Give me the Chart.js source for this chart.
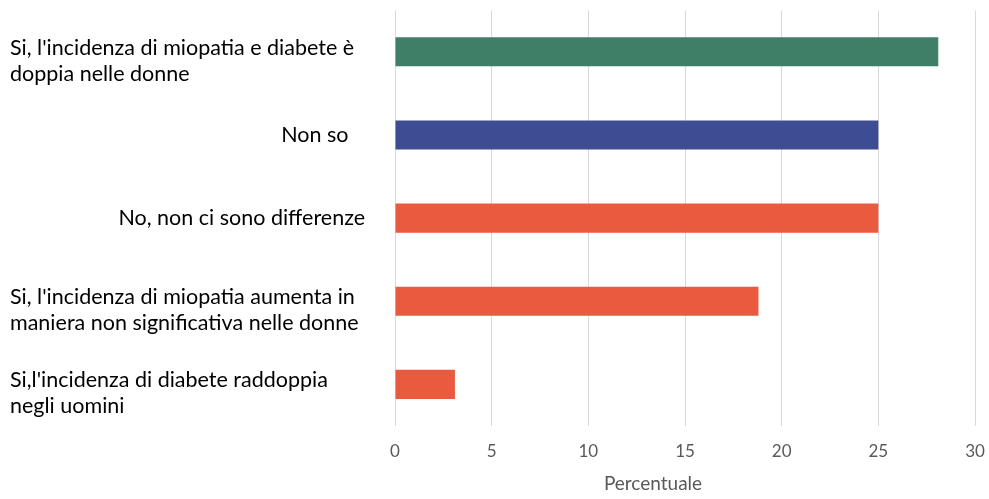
<!DOCTYPE html>
<html>
<head>
<meta charset="utf-8">
<script src="https://cdn.jsdelivr.net/npm/chart.js@4"></script>
<style>
  html, body { margin: 0; padding: 0; background: #fff; }
  .chart-container { position: relative; width: 989px; height: 499px; }
</style>
</head>
<body>
<div class="chart-container"><canvas id="answersChart"></canvas></div>
<script>
const categories = [
  ["Si, l'incidenza di miopatia e diabete è", "doppia nelle donne"],
  "Non so   ",
  "No, non ci sono differenze",
  ["Si, l'incidenza di miopatia aumenta in", "maniera non significativa nelle donne"],
  ["Si,l'incidenza di diabete raddoppia", "negli uomini"]
];
const percentages = [28.1, 25, 25, 18.8, 3.1];
const barColors = ['#3F7F67', '#3E4C93', '#EA5A3F', '#EA5A3F', '#EA5A3F'];
const xTicks = [0, 5, 10, 15, 20, 25, 30];
const axisTitle = 'Percentuale';

const fontFamily = 'Lato, "Open Sans", sans-serif';
const labelFont = '21.5px ' + fontFamily;

// draws the category labels the way the original does:
// wrapped labels left aligned, single ones right aligned next to the bars
// plus the axis title, which sits a bit left of the plot centre
const categoryLabels = {
  id: 'categoryLabels',
  afterDraw(chart) {
    const ctx = chart.ctx;
    const yScale = chart.scales.y;
    const area = chart.chartArea;
    ctx.save();
    ctx.font = labelFont;
    ctx.fillStyle = '#000';
    ctx.textBaseline = 'middle';
    categories.forEach((label, i) => {
      const y = yScale.getPixelForTick(i);
      if (Array.isArray(label)) {
        ctx.textAlign = 'left';
        label.forEach((line, j) => {
          ctx.fillText(line, 10, y - 4 + j * 26);
        });
      } else {
        ctx.textAlign = 'right';
        ctx.fillText(label, area.left - 30, y);
      }
    });

    ctx.font = '19px ' + fontFamily;
    ctx.fillStyle = '#595959';
    ctx.textAlign = 'center';
    ctx.fillText(axisTitle, (area.left + area.right) / 2 - 32, chart.height - 15);
    ctx.restore();
  }
};

const ctx = document.getElementById('answersChart').getContext('2d');
new Chart(ctx, {
  type: 'bar',
  data: {
    labels: categories,
    datasets: [{
      label: axisTitle,
      data: percentages,
      backgroundColor: barColors,
      categoryPercentage: 1,
      barPercentage: 0.35
    }]
  },
  options: {
    indexAxis: 'y',
    responsive: true,
    maintainAspectRatio: false,
    animation: false,
    layout: { padding: { top: 10, right: 0, bottom: 4, left: 0 } },
    scales: {
      x: {
        min: 0,
        max: 30,
        afterBuildTicks: (scale) => { scale.ticks = xTicks.map(v => ({ value: v })); },
        afterFit: (scale) => {
          scale.height = 69;
          scale.paddingRight = 14;
        },
        ticks: {
          color: '#595959',
          padding: 15,
          font: { family: fontFamily, size: 17 }
        },
        grid: { color: '#D9D9D9', lineWidth: 1, drawTicks: false },
        border: { display: false },
        title: { display: false }
      },
      y: {
        ticks: { callback: () => '' },
        grid: { display: false },
        border: { display: false },
        afterFit: (scale) => { scale.width = 395; }
      }
    },
    plugins: {
      legend: { display: false },
      tooltip: { enabled: false }
    }
  },
  plugins: [categoryLabels]
});
</script>
</body>
</html>
